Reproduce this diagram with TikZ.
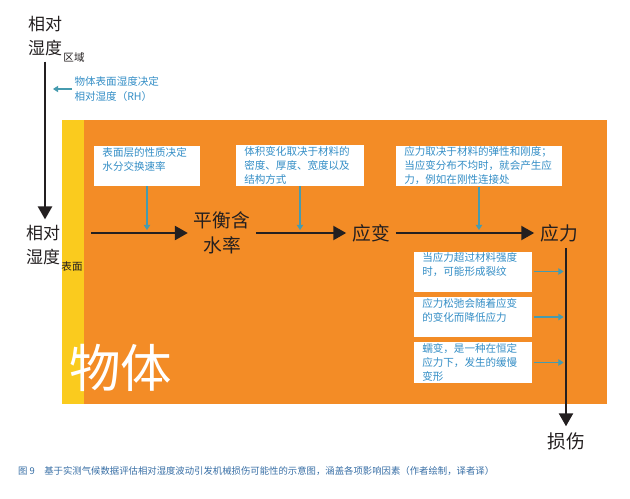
\documentclass[tikz,border=0pt]{standalone}
\usepackage{fontspec}
\setmainfont{Noto Sans CJK SC}
\usetikzlibrary{arrows.meta}

\definecolor{bodyorange}{RGB}{243,140,38}
\definecolor{surfyellow}{RGB}{250,203,30}
\definecolor{noteblue}{RGB}{52,142,198}
\definecolor{pointerteal}{RGB}{70,155,175}
\definecolor{captionblue}{RGB}{55,110,165}
\definecolor{inkgray}{RGB}{35,31,32}

\begin{document}
\begin{tikzpicture}[x=0.03cm, y=-0.03cm, node distance=1.365cm]
    \tikzstyle{term} = [text=inkgray, align=center, inner sep=5pt, font=\fontsize{16}{21}\selectfont]
    \tikzstyle{humid} = [text=inkgray, align=center, inner sep=5pt, font=\fontsize{14.5}{20}\selectfont]
    \tikzstyle{sublabel} = [text=inkgray, inner sep=0pt, font=\fontsize{9}{11}\selectfont]
    \tikzstyle{note} = [rectangle, fill=white, text=noteblue, align=left, inner xsep=7pt, inner ysep=1pt, minimum height=1.2cm, font=\fontsize{9}{12}\selectfont]
    \tikzstyle{mainarrow} = [draw=inkgray, line width=1.7pt, -{Triangle[length=11pt,width=12pt]}]
    \tikzstyle{pointer} = [draw=pointerteal, line width=0.9pt, -{Triangle[length=4.5pt,width=5.5pt]}]

    \useasboundingbox (0,0) rectangle (630,499);

    % Object and surface
    \node [rectangle, fill=surfyellow, inner sep=0pt, minimum width=0.66cm, minimum height=8.52cm, anchor=north west] (strip) at (62,120) {};
    \node [rectangle, fill=bodyorange, inner sep=0pt, minimum width=15.69cm, minimum height=8.52cm, anchor=north west] (body) at (84,120) {};
    \node [text=white, inner sep=0pt, font=\fontsize{44}{44}\selectfont] (objlabel) at (121,368) {物体};

    % Relative humidity
    \node [humid] (rhtop) at (45,36) {相对\\湿度};
    \node [sublabel] (rhzone) at (74,57) {区域};
    \node [text=noteblue, align=left, inner sep=2pt, anchor=west, font=\fontsize{9}{13.5}\selectfont] (rhnote) at (72,89) {物体表面湿度决定\\相对湿度（RH）};
    \node [humid] (rhleft) at (43,245) {相对\\湿度};
    \node [sublabel] (surface) at (72,266) {表面};

    % Chain of effects
    \node [term] (emc) at (222,233) {平衡含\\水率};
    \node [term] (strain) at (371,233) {应变};
    \node [term] (stress) at (559,233) {应力};
    \node [term] (damage) at (566,441) {损伤};

    % Notes
    \node [note, text width=76pt] (box1) at (147,166) {表面层的性质决定\\水分交换速率\\\mbox{}};
    \node [note, text width=95pt] (box2) at (300,165.5) {体积变化取决于材料的\\密度、厚度、宽度以及\\结构方式};
    \node [note, text width=127.5pt] (box3) at (479,166) {应力取决于材料的弹性和刚度；\\当应变分布不均时，就会产生应\\力，例如在刚性连接处};
    \node [note, text width=86.5pt] (box4) at (473,271.5) {当应力超过材料强度\\时，可能形成裂纹\\\mbox{}};
    \node [note, text width=86.5pt, below of=box4] (box5) {应力松弛会随着应变\\的变化而降低应力\\\mbox{}};
    \node [note, text width=86.5pt, below of=box5] (box6) {蠕变，是一种在恒定\\应力下，发生的缓慢\\变形};

    % Connections
    \draw [mainarrow] (rhtop.south) -- (rhtop.south |- rhleft.north);
    \draw [mainarrow, shorten <=6pt] (strip.east |- emc.west) -- (emc.west);
    \draw [mainarrow] (emc.east) -- (strain.west);
    \draw [mainarrow] (strain.east) -- (stress.west);
    \draw [mainarrow] (stress.south -| damage.north) -- (damage.north);

    \draw [pointer, shorten >=6.8pt] (rhnote.west) -- (rhnote.west -| rhtop.south);
    \draw [pointer, shorten >=2.5pt] (box1.south) -- (box1.south |- emc.west);
    \draw [pointer, shorten >=2.5pt] (box2.south) -- (box2.south |- strain.west);
    \draw [pointer, shorten >=2.5pt] (box3.south) -- (box3.south |- stress.west);
    \draw [pointer, shorten <=2pt, shorten >=2pt] (box4.east) -- (box4.east -| damage.north);
    \draw [pointer, shorten <=2pt, shorten >=2pt] (box5.east) -- (box5.east -| damage.north);
    \draw [pointer, shorten <=2pt, shorten >=2pt] (box6.east) -- (box6.east -| damage.north);

    % Caption
    \node [text=captionblue, anchor=west, inner sep=0pt, font=\fontsize{8}{10}\selectfont] (caption) at (18,471) {图 9\quad 基于实测气候数据评估相对湿度波动引发机械损伤可能性的示意图，涵盖各项影响因素（作者绘制，译者译）};
\end{tikzpicture}
\end{document}
